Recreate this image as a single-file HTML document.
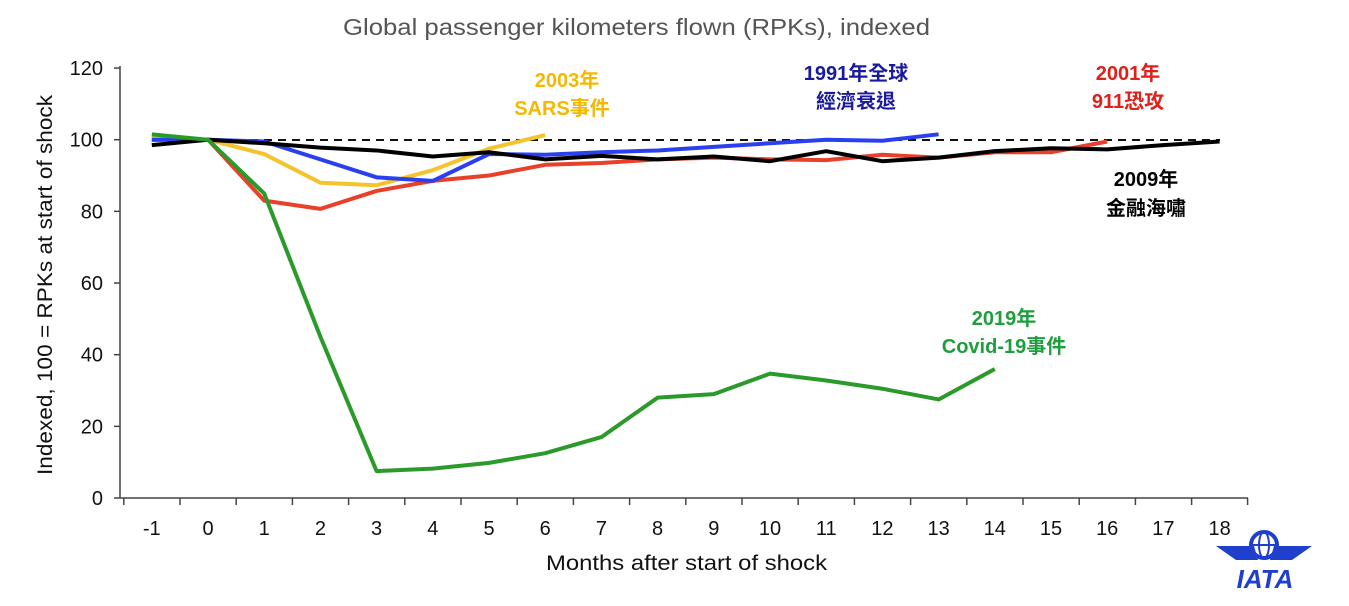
<!DOCTYPE html>
<html><head><meta charset="utf-8"><style>
html,body{margin:0;padding:0;background:#fff;}
svg text{font-family:"Liberation Sans","Noto Sans CJK TC",sans-serif;}
</style></head><body>
<svg id="s" width="1349" height="601" xmlns="http://www.w3.org/2000/svg">
<text x="343" y="35" textLength="587" lengthAdjust="spacingAndGlyphs" font-size="23" fill="#555">Global passenger kilometers flown (RPKs), indexed</text>
<text transform="translate(52,475) rotate(-90)" textLength="380" lengthAdjust="spacingAndGlyphs" font-size="21" fill="#111">Indexed, 100 = RPKs at start of shock</text>
<text x="546" y="570" textLength="281" lengthAdjust="spacingAndGlyphs" font-size="21" fill="#111">Months after start of shock</text>
<g id="ax" stroke="#444" stroke-width="1.5"></g>
<g id="lab" font-size="20" fill="#111"></g>
<line x1="152" y1="140" x2="1220" y2="140" stroke="#111" stroke-width="2" stroke-dasharray="8,6"/>
<g id="lines" fill="none" stroke-width="4" stroke-linejoin="round"></g>
<g font-weight="bold" font-size="20" text-anchor="middle">
<text x="567" y="87" fill="#f5b800">2003年</text><text x="562" y="115" fill="#f5b800">SARS事件</text>
<text x="856" y="80" fill="#1a1a9e">1991年全球</text><text x="856" y="108" fill="#1a1a9e">經濟衰退</text>
<text x="1128" y="80" fill="#e0201a">2001年</text><text x="1128" y="108" fill="#e0201a">911恐攻</text>
<text x="1146" y="186" fill="#000">2009年</text><text x="1146" y="215" fill="#000">金融海嘯</text>
<text x="1004" y="325" fill="#1e9e3c">2019年</text><text x="1004" y="353" fill="#1e9e3c">Covid-19事件</text>
</g>
<g fill="#1f3fcc">
<circle cx="1264" cy="545" r="13" fill="none" stroke="#1f3fcc" stroke-width="4"/>
<ellipse cx="1264" cy="545" rx="5" ry="13" fill="none" stroke="#1f3fcc" stroke-width="2"/>
<line x1="1251" y1="545" x2="1277" y2="545" stroke="#1f3fcc" stroke-width="2"/>
<path d="M1216 546 L1254 546 L1258 560 L1236 560 Z"/>
<path d="M1312 546 L1274 546 L1270 560 L1292 560 Z"/>
<text x="1265" y="588" text-anchor="middle" font-size="26" font-weight="bold" font-style="italic" fill="#1f3fcc">IATA</text>
</g>
</svg>
<script>
var X=m=>208+56.2*m, Y=v=>498-3.583*v, ns="http://www.w3.org/2000/svg";
var ax=document.getElementById('ax'),lab=document.getElementById('lab'),L=document.getElementById('lines');
function el(p,t,a,txt){var e=document.createElementNS(ns,t);for(var k in a)e.setAttribute(k,a[k]);if(txt!=null)e.textContent=txt;p.appendChild(e);return e;}
el(ax,'line',{x1:120,y1:66,x2:120,y2:498});
el(ax,'line',{x1:120,y1:498,x2:1248,y2:498});
for(var v=0;v<=120;v+=20){el(ax,'line',{x1:114,y1:Y(v),x2:120,y2:Y(v)});el(lab,'text',{x:103,y:Y(v)+7,'text-anchor':'end'},v);}
for(var m=-1;m<=18;m++){el(ax,'line',{x1:X(m)-28,y1:498,x2:X(m)-28,y2:505});el(lab,'text',{x:X(m),y:535,'text-anchor':'middle'},m);}
el(ax,'line',{x1:X(18)+28,y1:498,x2:X(18)+28,y2:505});
var S=[
["#e8402a",[100,100,83,80.7,85.7,88.5,90,93,93.5,94.5,95,94.5,94.3,95.8,95,96.5,96.5,99.5]],
["#f5c32c",[100.5,100,96,88,87.3,91.5,97.5,101.3]],
["#2a3ff0",[100,100,99.5,94.5,89.5,88.5,96,95.8,96.5,97,98,99,100,99.7,101.5]],
["#000",[98.5,100,99,97.8,97,95.3,96.5,94.5,95.5,94.5,95.3,94,96.8,94,95,96.8,97.6,97.3,98.5,99.5]],
["#2a9a2a",[101.5,100,85,45,7.5,8.2,9.8,12.5,17,28,29,34.7,32.8,30.5,27.5,36]]];
S.forEach(s=>{el(L,'polyline',{stroke:s[0],points:s[1].map((v,i)=>X(i-1)+","+Y(v)).join(" ")});});
</script>
</body></html>
